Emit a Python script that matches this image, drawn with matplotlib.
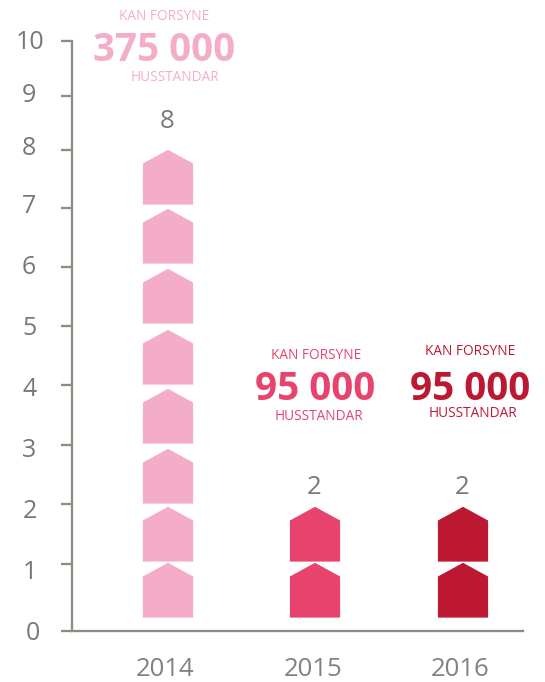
import numpy as np
import matplotlib
matplotlib.use("Agg")
import matplotlib.pyplot as plt
from matplotlib.path import Path
from matplotlib.transforms import Affine2D

# --- data ---
years = ["2014", "2015", "2016"]
houses = [8, 2, 2]
households = ["375 000", "95 000", "95 000"]
caption_top = "KAN FORSYNE"
caption_bottom = "HUSSTANDAR"
colors = ["#f4adc8", "#e8436c", "#bc1832"]
y_ticks = list(range(11))
# the printed axis is hand-spaced: pixel row of each tick in the reference
tick_rows = [631.3, 563.7, 504.3, 444.7, 385.3, 326.3, 267.0, 207.7, 150.0, 95.7, 41.3]
# top of each stacked house, in axis units
house_tops = [1.01, 1.96, 2.93, 3.93, 4.93, 5.97, 6.97, 8.0]

# --- layout ---
W, H, DPI = 545, 682, 100
GREY = "#8e8c82"
TXT = "#77787b"
YEAR_TXT = "#808184"
plt.rcParams["font.family"] = "Open Sans"
px = 72 / DPI

fig = plt.figure(figsize=(W / DPI, H / DPI), dpi=DPI)
left, right = 71.5, 523.0
ax = fig.add_axes([left / W, 1 - tick_rows[0] / H, (right - left) / W,
                   (tick_rows[0] - tick_rows[-1]) / H])
fractions = (tick_rows[0] - np.array(tick_rows)) / (tick_rows[0] - tick_rows[-1])
levels = np.array(y_ticks, dtype=float)
ax.set_yscale("function", functions=(lambda v: np.interp(v, levels, fractions),
                                     lambda f: np.interp(f, fractions, levels)))
ax.set_ylim(0, 10)
cat_step = 147.25
ax.set_xlim((left - 168) / cat_step, (right - 168) / cat_step)

for s in ("top", "right"):
    ax.spines[s].set_visible(False)
for s in ("left", "bottom"):
    ax.spines[s].set_color(GREY)
    ax.spines[s].set_linewidth(2.3 * px)

# y tick labels sit off their ticks in the reference: nudge each one
ax.set_yticks(y_ticks)
ax.set_yticklabels([str(t) for t in y_ticks])
ax.minorticks_off()
ax.tick_params(axis="y", length=11 * px, width=2.3 * px, color=GREY, labelcolor=TXT,
               labelsize=18, pad=0)
label_rows = [630.7, 570, 509, 448, 387, 326, 265, 204, 146, 92.7, 40]
label_cols = [32.5, 29.5, 29.5, 29.5, 29.5, 29.5, 29, 29, 29, 29, 30]
for lab, trow, row, col in zip(ax.get_yticklabels(), tick_rows, label_rows, label_cols):
    lab.set_ha("center")
    lab.set_va("baseline")
    lab.set_transform(lab.get_transform() +
                      Affine2D().translate(col - (left - 11), trow - (row + 9)))

ax.set_xticks(range(len(years)))
ax.set_xticklabels(years)
ax.tick_params(axis="x", length=0, labelcolor=YEAR_TXT, labelsize=18.5, pad=0)
for lab in ax.get_xticklabels():
    lab.set_ha("center")
    lab.set_va("baseline")
    lab.set_transform(lab.get_transform() +
                      Affine2D().translate(-2.5, tick_rows[0] - 676))

# house glyph: 50 px wide, 55 px tall, shoulder 13.7 px below the apex; anchored at the apex
hw, hh, sh, dx, dy = 25.1, 54.8, 13.7, -0.5, 0.7
house = Path(np.array([(-hw, -hh), (hw, -hh), (hw, -sh), (0, 0), (-hw, -sh), (-hw, -hh)]) + (dx, dy),
             closed=True)
ms = 2 * np.abs(house.vertices).max() * px

for i, (n, col) in enumerate(zip(houses, colors)):
    ax.plot([i] * n, house_tops[:n], ls="", marker=house, ms=ms, mfc=col, mew=0, clip_on=False)

# value labels
value_centres = [167.3, 313.7, 462.0]
value_rows = [127.5, 494.5, 494.5]
for x, r, n in zip(value_centres, value_rows, houses):
    fig.text(x / W, 1 - r / H, str(n), ha="center", va="baseline", color=TXT, fontsize=18.5)

# callouts: (x, baseline row) of each line
top_pos = [(164, 20.3), (316, 359.3), (469.7, 355.3)]
big_pos = [(164.5, 60.7), (315.5, 399.7), (469.7, 399.7)]
bot_pos = [(174.7, 81.3), (319, 420.3), (473, 417.3)]
for tp, bp, lp, txt, col in zip(top_pos, big_pos, bot_pos, households, colors):
    fig.text(tp[0] / W, 1 - tp[1] / H, caption_top, ha="center", va="baseline", color=col, fontsize=9.8)
    fig.text(bp[0] / W, 1 - bp[1] / H, txt, ha="center", va="baseline", color=col,
             fontsize=27.8, fontweight="bold")
    fig.text(lp[0] / W, 1 - lp[1] / H, caption_bottom, ha="center", va="baseline", color=col, fontsize=9.8)

fig.savefig("out.png", dpi=DPI)
